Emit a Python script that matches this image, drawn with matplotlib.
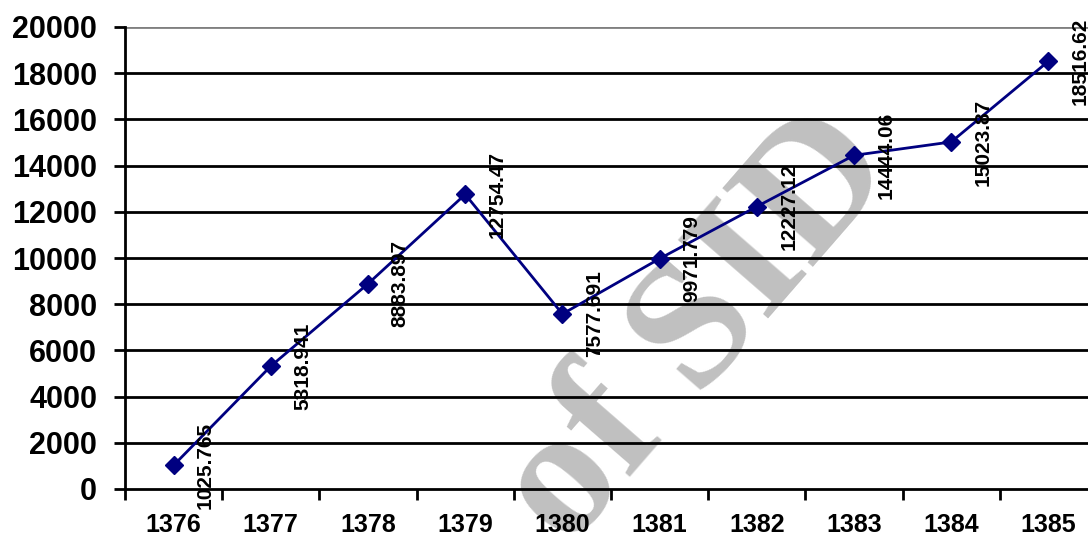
import matplotlib
matplotlib.use("Agg")
import matplotlib.pyplot as plt

years = ["1376", "1377", "1378", "1379", "1380", "1381", "1382", "1383", "1384", "1385"]
values = [1025.765, 5318.941, 8883.897, 12754.47, 7577.691, 9971.779, 12227.12, 14444.06, 15023.87, 18516.62]
labels = ["1025.765", "5318.941", "8883.897", "12754.47", "7577.691", "9971.779", "12227.12", "14444.06", "15023.87", "18516.62"]
yticks = [0, 2000, 4000, 6000, 8000, 10000, 12000, 14000, 16000, 18000, 20000]

plt.rcParams['font.family'] = ['Liberation Sans', 'DejaVu Sans']

fig = plt.figure(figsize=(10.88, 5.36), dpi=100)
ax = fig.add_axes([125/1088, 1-489/536, 972/1088, 462/536])
ax.set_facecolor("none")

# watermark (behind everything)
ax.text(700/1088, 1-330/536, "of SID", family="Liberation Serif", fontweight="bold",
        fontsize=132, color="#c0c0c0", rotation=49, ha="center", va="center",
        rotation_mode="anchor", zorder=0.5, transform=fig.transFigure, clip_on=False)

x = list(range(len(years)))
for yv in yticks[1:-1]:
    ax.axhline(yv, color="black", lw=2, zorder=1)
ax.axhline(20000, color="#808080", lw=2, zorder=1)

ax.plot(x, values, color="#000080", lw=2, marker="D", markersize=9, zorder=3, clip_on=False)
for xi, v, lab in zip(x, values, labels):
    ax.annotate(lab, (xi, v), xytext=(23, 0), textcoords="offset points",
                rotation=90, ha="center", va="center", fontsize=15, fontweight="bold",
                zorder=4, annotation_clip=False)

ax.set_xlim(-0.5, 9.5)
ax.set_ylim(0, 20000)
ax.set_yticks(yticks)
ax.set_yticklabels([str(t) for t in yticks], fontsize=22, fontweight="bold")
ax.set_xticks([i - 0.5 for i in range(11)])
ax.set_xticklabels([])
ax.set_xticks(x, minor=True)
ax.set_xticklabels(years, minor=True, fontsize=18, fontweight="bold")
ax.tick_params(axis="x", which="minor", length=0, pad=17)
ax.tick_params(axis="x", which="major", length=8, width=2, direction="out")
ax.tick_params(axis="y", length=8, width=2, direction="out", pad=12)

for s in ["top", "right"]:
    ax.spines[s].set_visible(False)
ax.spines["left"].set_linewidth(2)
ax.spines["bottom"].set_linewidth(2)

fig.savefig("out.png", dpi=100)
